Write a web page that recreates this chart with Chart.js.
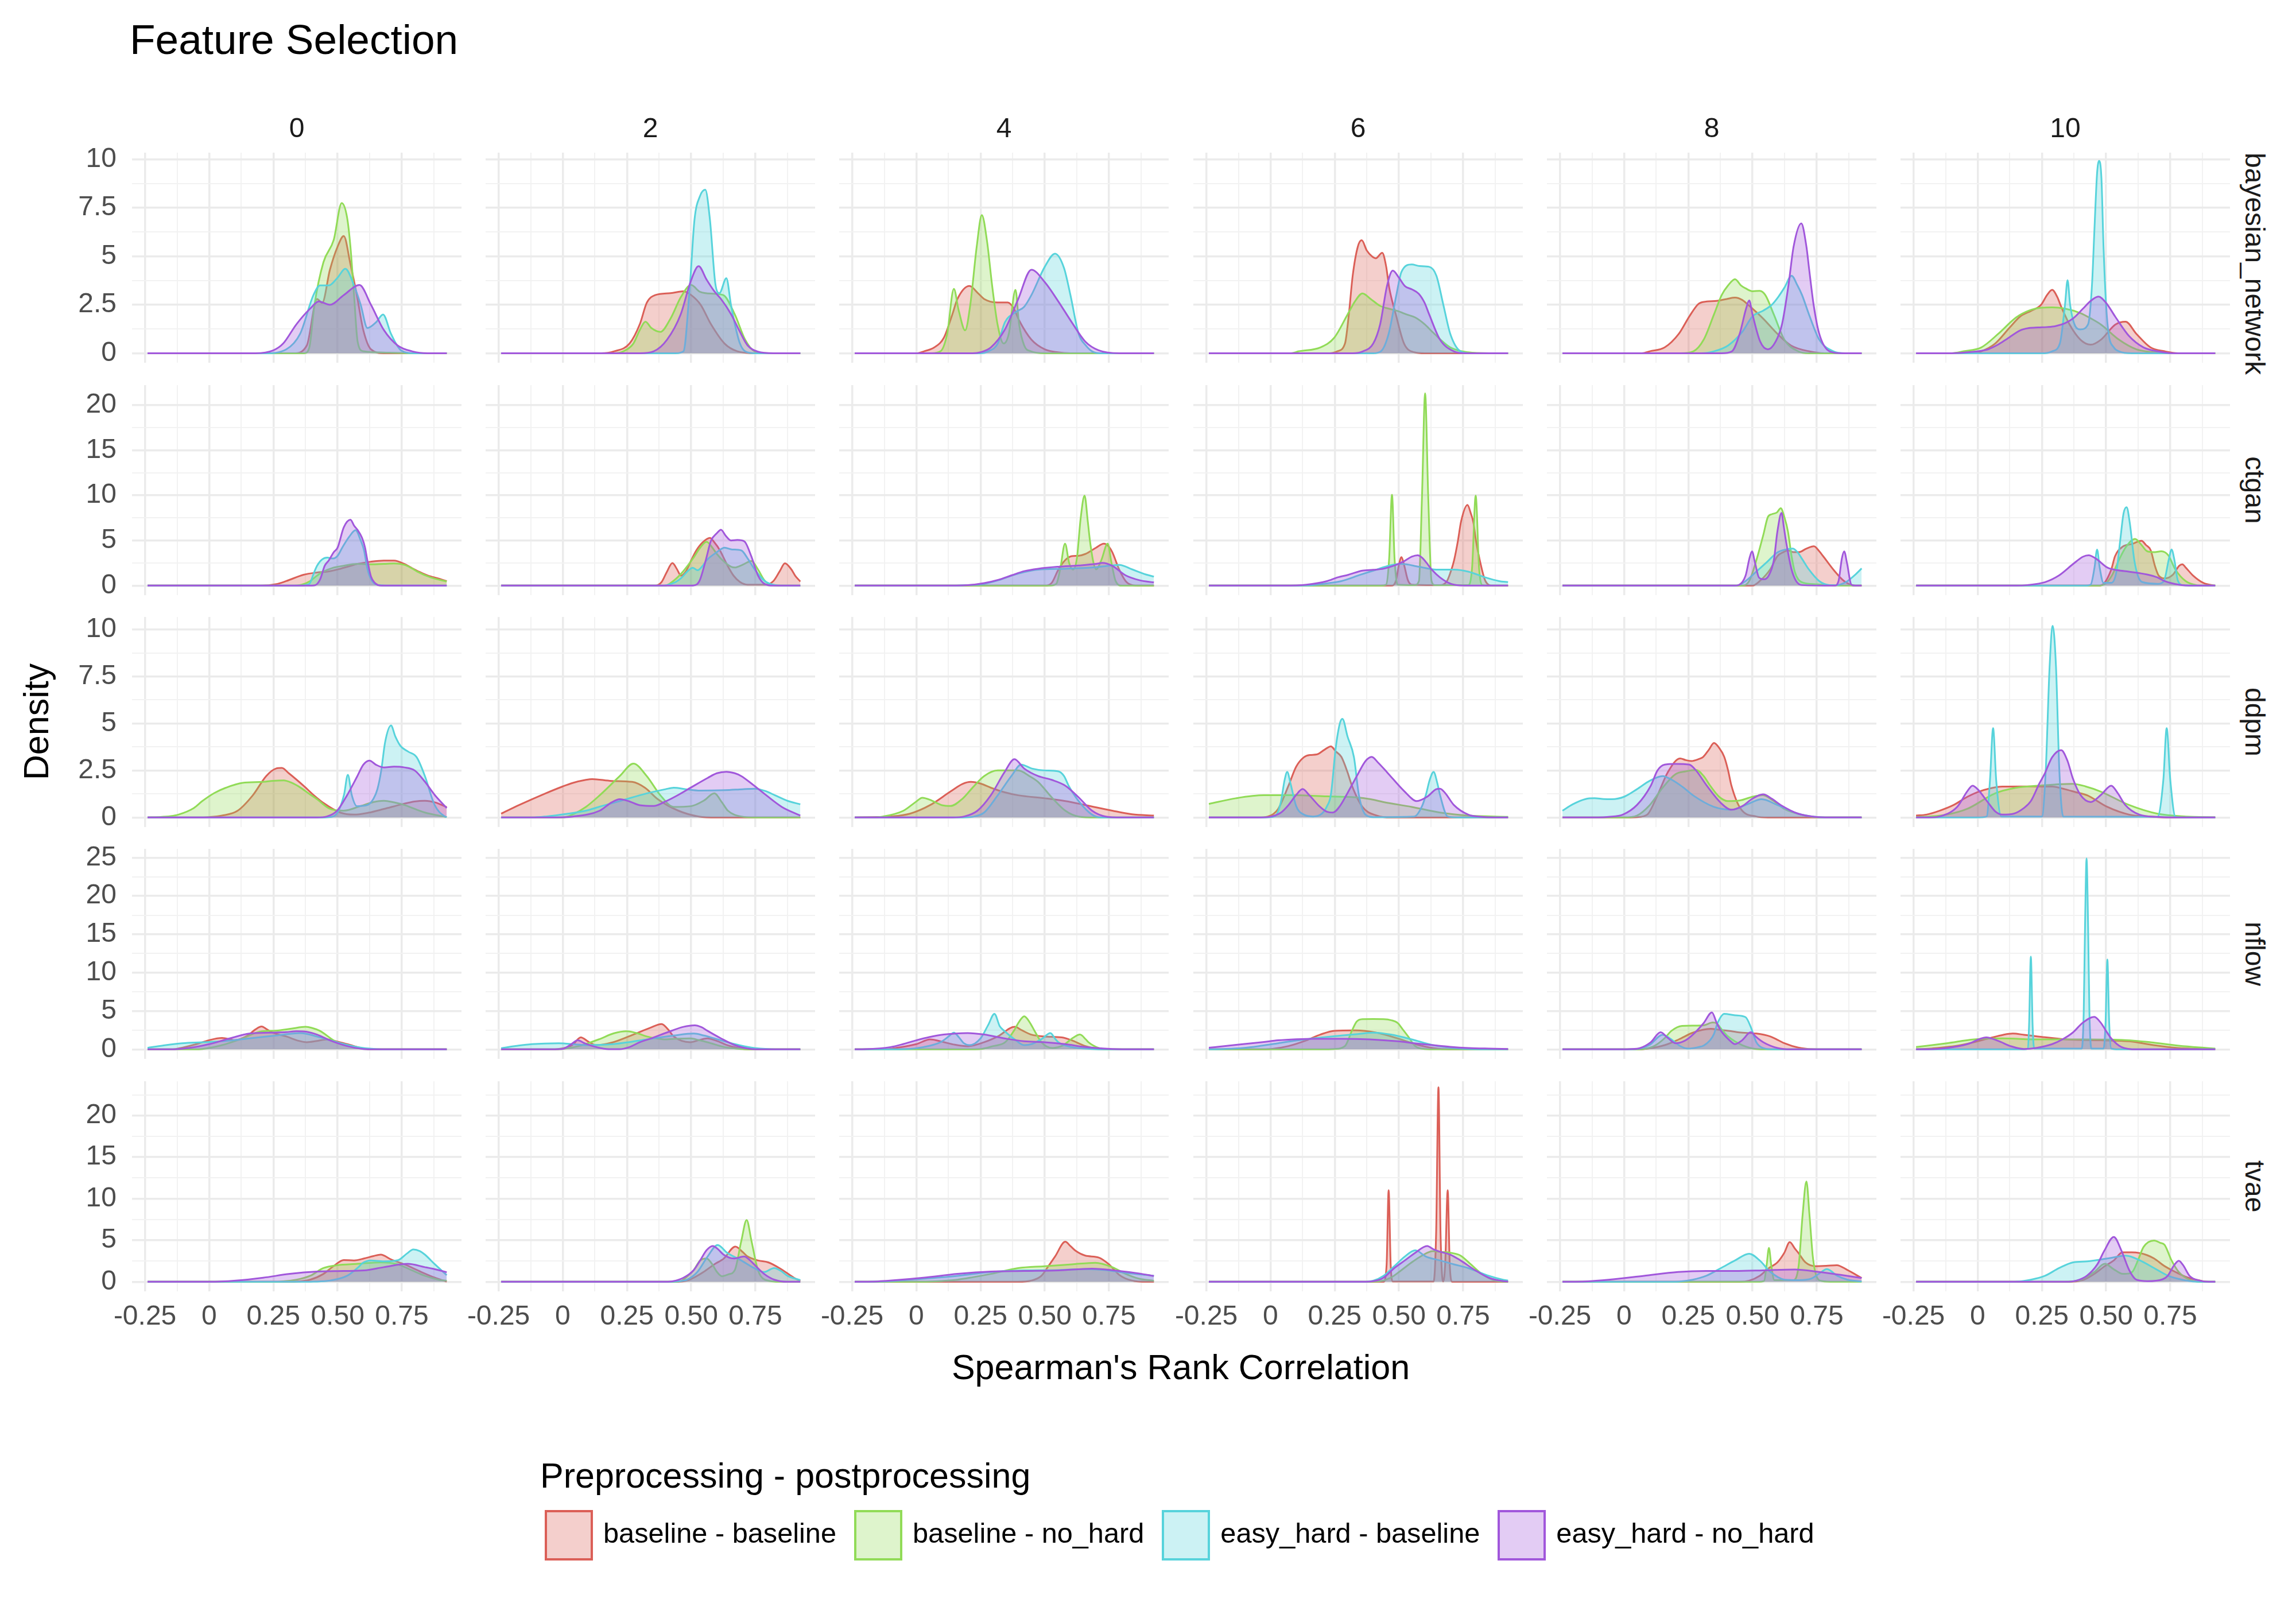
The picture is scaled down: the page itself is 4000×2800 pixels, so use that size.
<!DOCTYPE html>
<html><head><meta charset="utf-8">
<script src="https://cdn.jsdelivr.net/npm/chart.js@4.4.1/dist/chart.umd.min.js"></script>
<style>
html,body{margin:0;padding:0;background:#fff;}
#root{position:relative;width:4000px;height:2800px;background:#fff;overflow:hidden;font-family:"Liberation Sans",Arial,Helvetica,sans-serif;}
.t{position:absolute;white-space:nowrap;line-height:1;}
canvas{position:absolute;}
#legend{position:absolute;left:949px;top:2631px;height:88px;display:flex;align-items:center;}
.key{width:84px;height:88px;box-sizing:border-box;border:4px solid;flex:none;}
.ltxt{font-size:48.7px;line-height:48px;color:#000;margin-left:18px;margin-right:31px;position:relative;top:-4px;white-space:nowrap;}
</style></head><body><div id="root"></div>
<script>
// ---------- categories / labels ----------
var title = "Feature Selection";
var xTitle = "Spearman's Rank Correlation";
var yTitle = "Density";
var legendTitle = "Preprocessing - postprocessing";
var models = ["bayesian_network","ctgan","ddpm","nflow","tvae"];
var modelKeys = ["bn","ct","dd","nf","tv"];
var nFeatures = ["0","2","4","6","8","10"];
var seriesNames = ["baseline - baseline","baseline - no_hard","easy_hard - baseline","easy_hard - no_hard"];
var seriesKeys = ["bb","bn","eb","en"];
var xTickValues = [-0.25,0,0.25,0.5,0.75];
var xTickLabels = ["-0.25","0","0.25","0.50","0.75"];
var yTickValues = [[0,2.5,5,7.5,10],[0,5,10,15,20],[0,2.5,5,7.5,10],[0,5,10,15,20,25],[0,5,10,15,20]];
var yTickLabels = [["0","2.5","5","7.5","10"],["0","5","10","15","20"],["0","2.5","5","7.5","10"],["0","5","10","15","20","25"],["0","5","10","15","20"]];
var yLimits = [[-0.49,10.35],[-1.06,22.2],[-0.51,10.66],[-1.245,26.15],[-1.15,24.13]];
var xLimits = [-0.3005,0.9825];

// ---------- density curves [x, density] (bb = baseline-baseline, bn = baseline-no_hard, eb = easy_hard-baseline, en = easy_hard-no_hard) ----------
// bayesian_network
var bn0_bb=[[-0.24,0],[0.33,0],[0.38,0.4],[0.42,2.8],[0.44,2.6],[0.47,4.3],[0.5,5.5],[0.524,6.05],[0.55,4.6],[0.575,3.0],[0.6,1.2],[0.63,0.2],[0.68,0],[0.925,0]];
var bn0_bn=[[-0.24,0],[0.37,0],[0.39,0.3],[0.41,2.5],[0.445,4.7],[0.485,5.85],[0.516,7.75],[0.537,7.0],[0.55,5.5],[0.563,3.2],[0.578,0.6],[0.6,0.1],[0.7,0.03],[0.8,0],[0.925,0]];
var bn0_eb=[[-0.24,0],[0.22,0],[0.3,0.2],[0.354,1.0],[0.406,3.0],[0.432,3.5],[0.466,3.5],[0.5,3.9],[0.53,4.36],[0.564,3.5],[0.59,2.5],[0.616,1.3],[0.65,1.6],[0.677,2.0],[0.708,1.0],[0.747,0.15],[0.8,0],[0.925,0]];
var bn0_en=[[-0.24,0],[0.18,0],[0.25,0.15],[0.288,0.5],[0.34,1.5],[0.393,2.3],[0.427,2.67],[0.47,2.5],[0.524,3.0],[0.585,3.52],[0.63,2.5],[0.68,1.2],[0.734,0.4],[0.79,0.1],[0.85,0],[0.925,0]];
var bn2_bb=[[-0.24,0],[0.15,0],[0.2,0.1],[0.26,0.5],[0.3,1.5],[0.327,2.6],[0.36,3.0],[0.42,3.1],[0.47,3.2],[0.5,3.0],[0.537,2.5],[0.577,1.5],[0.63,0.5],[0.68,0.1],[0.75,0],[0.925,0]];
var bn2_bn=[[-0.24,0],[0.2,0],[0.236,0.1],[0.275,0.5],[0.3,1.2],[0.322,1.63],[0.345,1.3],[0.38,1.1],[0.42,1.8],[0.46,2.9],[0.5,3.52],[0.534,3.17],[0.586,3.07],[0.625,3.0],[0.67,2.0],[0.71,0.7],[0.747,0.1],[0.8,0],[0.925,0]];
var bn2_eb=[[-0.24,0],[0.44,0],[0.47,0.1],[0.495,3.5],[0.513,6.9],[0.534,8.1],[0.555,8.44],[0.573,6.9],[0.594,3.6],[0.61,3.1],[0.637,3.87],[0.655,2.5],[0.67,1.5],[0.69,0.5],[0.71,0.1],[0.75,0],[0.925,0]];
var bn2_en=[[-0.24,0],[0.3,0],[0.354,0.1],[0.406,0.7],[0.459,2.0],[0.498,3.7],[0.529,4.49],[0.56,3.8],[0.59,3.2],[0.616,2.8],[0.656,2.0],[0.69,1.1],[0.72,0.4],[0.76,0.08],[0.82,0],[0.925,0]];
var bn4_bb=[[-0.24,0],[0.0,0],[0.03,0.1],[0.07,0.3],[0.107,0.8],[0.14,2.0],[0.16,2.8],[0.207,3.47],[0.24,3.1],[0.264,2.8],[0.316,2.62],[0.356,2.62],[0.38,2.3],[0.4,1.7],[0.448,0.7],[0.5,0.2],[0.55,0.05],[0.6,0],[0.925,0]];
var bn4_bn=[[-0.24,0],[0.06,0],[0.094,0.1],[0.12,1.0],[0.146,3.32],[0.165,2.2],[0.19,1.18],[0.21,2.5],[0.235,5.5],[0.255,7.13],[0.275,5.8],[0.295,3.5],[0.316,1.5],[0.34,0.5],[0.36,1.0],[0.386,3.27],[0.4,1.5],[0.42,0.4],[0.446,0.1],[0.5,0],[0.925,0]];
var bn4_eb=[[-0.24,0],[0.25,0],[0.28,0.1],[0.317,0.5],[0.345,1.6],[0.388,2.13],[0.42,2.4],[0.448,3.0],[0.5,4.46],[0.54,5.14],[0.575,4.4],[0.6,3.0],[0.632,1.0],[0.66,0.4],[0.684,0.1],[0.72,0],[0.925,0]];
var bn4_en=[[-0.24,0],[0.22,0],[0.25,0.05],[0.29,0.3],[0.343,1.18],[0.396,2.77],[0.448,4.31],[0.5,3.67],[0.553,2.67],[0.606,1.58],[0.658,0.6],[0.71,0.15],[0.79,0],[0.925,0]];
var bn6_bb=[[-0.24,0],[0.23,0],[0.26,0.1],[0.29,0.5],[0.305,2.0],[0.32,4.0],[0.34,5.5],[0.355,5.83],[0.375,5.3],[0.395,5.0],[0.41,4.9],[0.435,5.18],[0.45,4.5],[0.462,3.4],[0.488,2.0],[0.52,0.5],[0.56,0.05],[0.6,0],[0.925,0]];
var bn6_bn=[[-0.24,0],[0.08,0],[0.11,0.1],[0.194,0.3],[0.248,0.8],[0.3,2.0],[0.33,2.7],[0.358,3.09],[0.39,2.8],[0.426,2.45],[0.46,2.3],[0.495,2.18],[0.53,2.0],[0.563,1.85],[0.6,1.5],[0.632,1.08],[0.7,0.3],[0.77,0.05],[0.85,0],[0.925,0]];
var bn6_eb=[[-0.24,0],[0.4,0],[0.43,0.1],[0.46,1.0],[0.49,3.0],[0.51,4.2],[0.55,4.58],[0.58,4.5],[0.618,4.46],[0.646,4.0],[0.673,2.5],[0.7,1.0],[0.74,0.1],[0.78,0],[0.925,0]];
var bn6_en=[[-0.24,0],[0.32,0],[0.36,0.1],[0.4,0.5],[0.427,1.5],[0.454,3.5],[0.476,4.26],[0.5,3.9],[0.523,3.47],[0.55,3.3],[0.577,3.07],[0.6,2.6],[0.618,2.0],[0.66,0.7],[0.714,0.1],[0.76,0],[0.925,0]];
var bn8_bb=[[-0.24,0],[0.07,0],[0.1,0.1],[0.158,0.3],[0.213,1.0],[0.254,1.9],[0.29,2.55],[0.322,2.67],[0.36,2.7],[0.4,2.8],[0.432,2.87],[0.46,2.75],[0.487,2.45],[0.542,1.78],[0.597,1.0],[0.65,0.4],[0.72,0.1],[0.78,0],[0.925,0]];
var bn8_bn=[[-0.24,0],[0.22,0],[0.27,0.1],[0.31,0.7],[0.35,2.0],[0.38,3.0],[0.405,3.5],[0.432,3.82],[0.455,3.5],[0.473,3.35],[0.5,3.2],[0.528,3.22],[0.55,3.0],[0.583,2.0],[0.624,0.7],[0.678,0.1],[0.72,0],[0.925,0]];
var bn8_eb=[[-0.24,0],[0.3,0],[0.35,0.1],[0.405,0.4],[0.46,1.1],[0.5,1.9],[0.542,2.2],[0.575,2.5],[0.6,2.9],[0.625,3.4],[0.652,4.0],[0.675,3.5],[0.693,3.0],[0.72,2.0],[0.76,0.7],[0.815,0.1],[0.86,0],[0.925,0]];
var bn8_en=[[-0.24,0],[0.38,0],[0.42,0.1],[0.45,1.0],[0.475,2.3],[0.487,2.72],[0.5,2.0],[0.53,0.6],[0.56,0.2],[0.59,0.6],[0.615,1.5],[0.64,3.5],[0.66,5.5],[0.69,6.7],[0.71,5.5],[0.72,4.4],[0.738,2.5],[0.76,1.0],[0.8,0.1],[0.85,0],[0.925,0]];
var bn10_bb=[[-0.24,0],[-0.02,0],[0.014,0.1],[0.068,0.5],[0.123,1.3],[0.166,1.9],[0.21,2.2],[0.247,2.5],[0.27,3.0],[0.29,3.27],[0.31,2.9],[0.323,2.47],[0.358,1.48],[0.4,0.7],[0.44,0.44],[0.48,0.7],[0.536,1.48],[0.576,1.63],[0.618,1.0],[0.673,0.3],[0.728,0.1],[0.78,0],[0.925,0]];
var bn10_bn=[[-0.24,0],[-0.1,0],[-0.055,0.1],[0.014,0.3],[0.08,1.0],[0.15,1.85],[0.2,2.2],[0.25,2.35],[0.29,2.37],[0.34,2.3],[0.4,2.07],[0.44,1.8],[0.48,1.48],[0.55,0.7],[0.618,0.2],[0.686,0.05],[0.75,0],[0.925,0]];
var bn10_eb=[[-0.24,0],[0.26,0],[0.29,0.1],[0.32,0.5],[0.34,2.5],[0.35,3.77],[0.36,2.5],[0.38,1.4],[0.4,1.23],[0.43,1.5],[0.445,3.5],[0.455,6.5],[0.465,9.3],[0.473,9.93],[0.482,9.0],[0.49,5.5],[0.5,2.5],[0.51,1.0],[0.53,0.3],[0.55,0.1],[0.6,0],[0.925,0]];
var bn10_en=[[-0.24,0],[-0.1,0],[-0.04,0.05],[0.04,0.2],[0.08,0.45],[0.11,0.7],[0.166,1.18],[0.2,1.3],[0.235,1.33],[0.27,1.35],[0.303,1.4],[0.34,1.55],[0.372,1.8],[0.41,2.3],[0.44,2.7],[0.47,2.92],[0.5,2.6],[0.536,1.88],[0.59,0.88],[0.646,0.3],[0.7,0.1],[0.76,0],[0.925,0]];
// ctgan
var ct0_bb=[[-0.24,0],[0.2,0],[0.262,0.17],[0.3,0.5],[0.367,1.2],[0.42,1.45],[0.46,1.55],[0.497,1.77],[0.54,2.1],[0.577,2.4],[0.63,2.65],[0.68,2.77],[0.72,2.77],[0.76,2.4],[0.787,1.98],[0.82,1.5],[0.852,1.1],[0.89,0.8],[0.925,0.5]];
var ct0_bn=[[-0.24,0],[0.32,0],[0.36,0.1],[0.393,0.5],[0.42,1.1],[0.445,1.55],[0.48,1.95],[0.524,2.2],[0.577,2.4],[0.63,2.35],[0.68,2.4],[0.72,2.45],[0.76,2.3],[0.79,1.9],[0.81,1.55],[0.863,0.9],[0.925,0.45]];
var ct0_eb=[[-0.24,0],[0.36,0],[0.38,0.1],[0.393,0.3],[0.405,1.2],[0.42,2.2],[0.44,2.9],[0.46,3.1],[0.48,3.0],[0.5,3.3],[0.52,4.3],[0.545,5.4],[0.57,6.13],[0.59,5.0],[0.603,3.9],[0.615,2.0],[0.624,1.1],[0.64,0.3],[0.66,0.05],[0.7,0],[0.925,0]];
var ct0_en=[[-0.24,0],[0.4,0],[0.414,0.06],[0.432,0.7],[0.45,2.2],[0.466,2.8],[0.485,3.7],[0.5,4.2],[0.524,6.45],[0.55,7.3],[0.565,6.6],[0.577,6.2],[0.595,5.3],[0.607,4.2],[0.616,2.8],[0.63,1.0],[0.645,0.3],[0.67,0],[0.925,0]];
var ct2_bb=[[-0.24,0],[0.36,0],[0.385,0.4],[0.405,1.5],[0.427,2.5],[0.445,1.8],[0.46,1.1],[0.48,1.6],[0.5,2.8],[0.52,3.9],[0.545,4.8],[0.573,5.28],[0.59,4.8],[0.612,3.9],[0.64,2.3],[0.665,1.1],[0.69,0.4],[0.72,0.1],[0.79,0.1],[0.82,0.5],[0.845,1.6],[0.865,2.47],[0.89,1.8],[0.905,1.1],[0.925,0.45]];
var ct2_bn=[[-0.24,0],[0.4,0],[0.43,0.5],[0.468,1.55],[0.508,3.04],[0.535,4.2],[0.56,4.85],[0.58,4.3],[0.6,3.5],[0.63,2.6],[0.655,2.1],[0.67,2.0],[0.7,2.3],[0.735,2.72],[0.76,1.8],[0.785,0.6],[0.81,0.1],[0.85,0],[0.925,0]];
var ct2_eb=[[-0.24,0],[0.38,0],[0.406,0.06],[0.44,0.4],[0.46,0.8],[0.49,1.7],[0.506,1.98],[0.525,1.7],[0.545,2.2],[0.56,2.8],[0.6,3.7],[0.63,4.2],[0.66,4.0],[0.695,3.9],[0.72,3.0],[0.747,1.8],[0.787,0.5],[0.82,0.1],[0.86,0],[0.925,0]];
var ct2_en=[[-0.24,0],[0.5,0],[0.52,0.1],[0.535,0.7],[0.557,2.83],[0.577,4.96],[0.6,5.8],[0.616,6.19],[0.635,5.5],[0.655,5.0],[0.68,5.06],[0.707,4.9],[0.734,3.26],[0.76,1.13],[0.787,0.17],[0.82,0],[0.925,0]];
var ct4_bb=[[-0.24,0],[0.5,0],[0.527,0.3],[0.553,1.77],[0.58,2.83],[0.605,3.26],[0.63,3.3],[0.658,3.5],[0.7,4.2],[0.73,4.64],[0.75,4.3],[0.763,3.7],[0.79,1.77],[0.815,0.5],[0.84,0.06],[0.87,0],[0.925,0]];
var ct4_bn=[[-0.24,0],[0.52,0],[0.545,0.2],[0.56,1.8],[0.579,4.64],[0.595,2.5],[0.61,1.77],[0.625,3.0],[0.64,7.5],[0.655,9.96],[0.668,7.0],[0.676,4.96],[0.69,2.5],[0.7,1.8],[0.72,2.8],[0.745,4.64],[0.76,2.5],[0.776,0.5],[0.8,0],[0.925,0]];
var ct4_eb=[[-0.24,0],[0.15,0],[0.2,0.05],[0.26,0.17],[0.32,0.6],[0.37,1.1],[0.42,1.5],[0.474,1.77],[0.58,1.87],[0.685,2.0],[0.75,2.2],[0.79,2.3],[0.84,1.8],[0.894,1.23],[0.925,1.0]];
var ct4_en=[[-0.24,0],[0.15,0],[0.2,0.05],[0.264,0.28],[0.32,0.65],[0.37,1.13],[0.42,1.6],[0.474,1.87],[0.553,2.09],[0.632,2.23],[0.7,2.4],[0.724,2.51],[0.763,2.19],[0.815,1.13],[0.868,0.6],[0.925,0.35]];
var ct6_bb=[[-0.24,0],[0.47,0],[0.488,0.5],[0.5,2.3],[0.51,3.15],[0.52,2.3],[0.535,0.6],[0.55,0.1],[0.66,0.05],[0.687,0.5],[0.7,1.4],[0.715,2.83],[0.73,5.0],[0.742,7.1],[0.767,8.94],[0.78,8.0],[0.79,7.0],[0.8,5.0],[0.815,2.8],[0.837,0.5],[0.865,0],[0.925,0]];
var ct6_bn=[[-0.24,0],[0.43,0],[0.45,0.1],[0.462,3.0],[0.473,10.06],[0.483,3.0],[0.495,0.1],[0.56,0.05],[0.578,0.5],[0.59,10.0],[0.602,21.3],[0.614,10.0],[0.627,0.5],[0.64,0.05],[0.77,0.05],[0.785,2.0],[0.799,9.96],[0.812,2.0],[0.825,0.05],[0.85,0],[0.925,0]];
var ct6_eb=[[-0.24,0],[0.12,0],[0.166,0.05],[0.22,0.25],[0.276,0.5],[0.35,1.2],[0.413,1.77],[0.46,2.2],[0.51,2.4],[0.578,2.09],[0.646,1.77],[0.715,1.77],[0.77,1.55],[0.837,0.9],[0.89,0.5],[0.925,0.38]];
var ct6_en=[[-0.24,0],[0.05,0],[0.14,0.1],[0.22,0.5],[0.26,0.9],[0.303,1.2],[0.358,1.66],[0.4,1.75],[0.44,1.87],[0.48,2.2],[0.52,2.7],[0.55,3.2],[0.573,3.36],[0.59,3.1],[0.605,2.62],[0.63,1.7],[0.66,0.9],[0.69,0.35],[0.715,0.1],[0.77,0],[0.925,0]];
var ct8_bb=[[-0.24,0],[0.5,0],[0.528,0.5],[0.569,1.8],[0.597,3.26],[0.62,3.7],[0.638,3.9],[0.66,3.7],[0.68,3.7],[0.71,4.1],[0.739,4.36],[0.76,3.8],[0.775,3.26],[0.815,1.77],[0.857,0.5],[0.9,0],[0.925,0]];
var ct8_bn=[[-0.24,0],[0.46,0],[0.487,0.5],[0.515,2.8],[0.542,5.6],[0.56,7.6],[0.575,7.9],[0.595,8.1],[0.61,8.57],[0.625,7.5],[0.638,6.0],[0.652,3.3],[0.665,1.5],[0.678,0.7],[0.7,0.3],[0.75,0.15],[0.8,0.05],[0.85,0],[0.925,0]];
var ct8_eb=[[-0.24,0],[0.42,0],[0.446,0.06],[0.473,0.5],[0.515,1.55],[0.556,2.6],[0.597,3.68],[0.63,4.0],[0.657,4.1],[0.675,3.7],[0.692,3.0],[0.72,1.77],[0.76,0.5],[0.8,0.06],[0.83,0.05],[0.85,0.2],[0.87,0.5],[0.9,1.2],[0.925,1.9]];
var ct8_en=[[-0.24,0],[0.43,0],[0.446,0.06],[0.473,1.1],[0.488,3.0],[0.498,3.79],[0.51,2.5],[0.525,0.9],[0.545,0.7],[0.563,1.1],[0.583,2.8],[0.597,6.0],[0.613,8.04],[0.622,6.5],[0.63,5.0],[0.652,1.8],[0.67,0.5],[0.692,0.06],[0.82,0],[0.835,0.5],[0.848,3.0],[0.857,3.79],[0.868,2.5],[0.885,0.1],[0.9,0],[0.925,0]];
var ct10_bb=[[-0.24,0],[0.47,0],[0.493,0.28],[0.52,1.77],[0.535,3.26],[0.564,4.3],[0.6,4.6],[0.638,4.96],[0.655,4.5],[0.674,3.9],[0.69,2.2],[0.705,1.1],[0.73,0.8],[0.76,1.2],[0.785,2.2],[0.797,2.36],[0.81,2.0],[0.838,1.13],[0.88,0.28],[0.92,0.02],[0.925,0]];
var ct10_bn=[[-0.24,0],[0.47,0],[0.495,0.17],[0.523,1.13],[0.55,2.83],[0.578,4.3],[0.613,5.17],[0.635,4.6],[0.66,3.8],[0.69,3.7],[0.715,3.8],[0.742,3.36],[0.77,1.77],[0.81,0.5],[0.85,0.06],[0.88,0],[0.925,0]];
var ct10_eb=[[-0.24,0],[0.42,0],[0.44,0.1],[0.455,2.0],[0.465,4.0],[0.475,2.0],[0.49,0.3],[0.52,0.3],[0.54,1.5],[0.555,5.0],[0.568,8.0],[0.58,8.68],[0.592,7.0],[0.61,2.8],[0.625,1.0],[0.64,0.4],[0.7,0.2],[0.725,0.5],[0.745,3.0],[0.755,4.0],[0.765,3.0],[0.78,0.5],[0.8,0.05],[0.84,0],[0.925,0]];
var ct10_en=[[-0.24,0],[0.15,0],[0.194,0.06],[0.262,0.38],[0.317,1.13],[0.372,2.4],[0.41,3.2],[0.432,3.36],[0.46,3.0],[0.505,2.0],[0.545,1.7],[0.588,1.55],[0.66,1.23],[0.7,0.9],[0.728,0.5],[0.783,0.1],[0.84,0],[0.925,0]];
// ddpm
var dd0_bb=[[-0.24,0],[-0.05,0],[0.0,0.02],[0.05,0.1],[0.11,0.35],[0.17,1.18],[0.222,2.2],[0.26,2.6],[0.283,2.63],[0.31,2.35],[0.367,1.69],[0.41,1.15],[0.445,0.77],[0.51,0.26],[0.564,0.15],[0.62,0.25],[0.68,0.45],[0.75,0.7],[0.8,0.85],[0.84,0.89],[0.88,0.8],[0.925,0.55]];
var dd0_bn=[[-0.24,0],[-0.2,0.02],[-0.15,0.07],[-0.12,0.15],[-0.06,0.5],[-0.027,0.87],[0.02,1.3],[0.065,1.58],[0.13,1.84],[0.21,1.89],[0.25,1.95],[0.29,1.97],[0.32,1.85],[0.354,1.6],[0.39,1.25],[0.42,0.97],[0.47,0.46],[0.524,0.36],[0.59,0.61],[0.64,0.82],[0.68,0.89],[0.72,0.8],[0.76,0.66],[0.84,0.26],[0.925,0.02]];
var dd0_eb=[[-0.24,0],[0.44,0],[0.47,0.02],[0.5,0.26],[0.525,1.2],[0.54,2.27],[0.555,1.2],[0.575,0.6],[0.616,0.66],[0.64,1.0],[0.655,1.5],[0.67,2.5],[0.685,4.0],[0.708,4.89],[0.725,4.3],[0.745,3.8],[0.775,3.5],[0.808,3.2],[0.84,2.2],[0.878,0.66],[0.918,0.05],[0.925,0.02]];
var dd0_en=[[-0.24,0],[0.42,0],[0.458,0.05],[0.498,0.36],[0.537,1.18],[0.577,2.2],[0.6,2.8],[0.624,3.02],[0.65,2.8],[0.68,2.66],[0.72,2.7],[0.76,2.66],[0.8,2.5],[0.84,1.9],[0.878,1.2],[0.925,0.5]];
var dd2_bb=[[-0.24,0.2],[-0.17,0.66],[-0.067,1.28],[0.0,1.65],[0.04,1.84],[0.09,2.0],[0.115,2.04],[0.19,1.94],[0.27,1.89],[0.32,1.58],[0.37,0.97],[0.45,0.36],[0.53,0.05],[0.6,0],[0.925,0]];
var dd2_bn=[[-0.24,0],[0.0,0],[0.037,0.15],[0.09,0.56],[0.144,1.18],[0.222,2.2],[0.275,2.86],[0.327,2.2],[0.38,1.18],[0.432,0.56],[0.5,0.6],[0.55,0.9],[0.59,1.28],[0.62,0.8],[0.643,0.36],[0.695,0.05],[0.75,0],[0.925,0]];
var dd2_eb=[[-0.24,0],[-0.12,0],[-0.066,0.05],[0.02,0.2],[0.09,0.36],[0.15,0.6],[0.222,0.87],[0.327,1.28],[0.4,1.5],[0.432,1.58],[0.48,1.5],[0.535,1.43],[0.63,1.45],[0.7,1.5],[0.747,1.53],[0.79,1.4],[0.826,1.18],[0.878,0.87],[0.925,0.7]];
var dd2_en=[[-0.24,0],[-0.05,0],[0.04,0.05],[0.144,0.36],[0.19,0.8],[0.222,0.97],[0.26,0.85],[0.3,0.65],[0.354,0.61],[0.4,0.85],[0.45,1.2],[0.5,1.6],[0.564,2.1],[0.6,2.35],[0.637,2.43],[0.67,2.35],[0.695,2.2],[0.735,1.8],[0.774,1.38],[0.853,0.56],[0.925,0.1]];
var dd4_bb=[[-0.24,0],[-0.17,0.02],[-0.1,0.05],[-0.025,0.2],[0.054,0.66],[0.133,1.38],[0.18,1.78],[0.212,1.89],[0.25,1.8],[0.29,1.58],[0.34,1.35],[0.396,1.18],[0.5,1.02],[0.58,0.87],[0.658,0.66],[0.763,0.36],[0.84,0.17],[0.925,0.1]];
var dd4_bn=[[-0.24,0],[-0.18,0],[-0.13,0.05],[-0.05,0.36],[0.0,0.85],[0.023,1.05],[0.06,0.9],[0.1,0.65],[0.133,0.61],[0.18,1.0],[0.22,1.6],[0.264,2.2],[0.317,2.5],[0.396,2.5],[0.44,2.2],[0.474,1.89],[0.527,1.07],[0.58,0.36],[0.632,0.05],[0.7,0],[0.925,0]];
var dd4_eb=[[-0.24,0],[0.18,0],[0.225,0.05],[0.264,0.26],[0.317,1.18],[0.37,2.2],[0.408,2.81],[0.45,2.6],[0.5,2.5],[0.553,2.45],[0.575,2.2],[0.593,1.69],[0.632,0.87],[0.684,0.15],[0.72,0],[0.925,0]];
var dd4_en=[[-0.24,0],[0.14,0],[0.186,0.05],[0.238,0.36],[0.29,1.18],[0.343,2.4],[0.382,3.1],[0.42,2.6],[0.474,2.2],[0.527,2.0],[0.58,1.69],[0.632,1.07],[0.684,0.36],[0.737,0.05],[0.8,0],[0.925,0]];
var dd6_bb=[[-0.24,0],[-0.05,0],[-0.01,0.05],[0.03,0.46],[0.07,1.69],[0.1,2.7],[0.13,3.2],[0.153,3.32],[0.18,3.35],[0.21,3.6],[0.235,3.78],[0.255,3.5],[0.276,3.22],[0.3,2.4],[0.317,1.69],[0.358,0.56],[0.413,0.1],[0.47,0],[0.925,0]];
var dd6_bn=[[-0.24,0.72],[-0.135,1.02],[-0.025,1.18],[0.085,1.18],[0.22,1.12],[0.33,1.07],[0.39,0.97],[0.44,0.82],[0.55,0.56],[0.66,0.26],[0.77,0.1],[0.925,0.03]];
var dd6_eb=[[-0.24,0],[-0.02,0],[0.016,0.05],[0.04,0.8],[0.055,2.0],[0.065,2.42],[0.078,1.8],[0.1,0.6],[0.13,0.15],[0.166,0.05],[0.2,0.2],[0.22,0.6],[0.235,1.2],[0.254,3.7],[0.27,5.0],[0.28,5.24],[0.3,4.3],[0.325,3.2],[0.344,1.2],[0.37,0.15],[0.4,0.02],[0.56,0.05],[0.59,0.6],[0.605,1.2],[0.62,2.0],[0.635,2.42],[0.65,1.8],[0.66,1.2],[0.69,0.05],[0.73,0],[0.925,0]];
var dd6_en=[[-0.24,0],[-0.04,0],[0.003,0.05],[0.04,0.25],[0.07,0.66],[0.1,1.2],[0.125,1.51],[0.15,1.2],[0.19,0.6],[0.22,0.3],[0.243,0.26],[0.27,0.6],[0.3,1.3],[0.34,2.3],[0.37,3.0],[0.394,3.22],[0.42,2.9],[0.454,2.4],[0.522,1.38],[0.57,0.87],[0.61,1.1],[0.645,1.5],[0.66,1.53],[0.68,1.3],[0.714,0.66],[0.77,0.15],[0.823,0.03],[0.87,0],[0.925,0]];
var dd8_bb=[[-0.24,0],[0.0,0],[0.05,0.02],[0.09,0.15],[0.13,1.18],[0.17,2.4],[0.218,3.14],[0.24,3.05],[0.262,3.0],[0.29,3.1],[0.308,3.22],[0.33,3.6],[0.35,3.96],[0.37,3.7],[0.39,3.22],[0.405,2.5],[0.418,1.69],[0.454,0.46],[0.515,0.05],[0.56,0],[0.925,0]];
var dd8_bn=[[-0.24,0],[0.0,0],[0.05,0.1],[0.1,0.66],[0.15,1.58],[0.2,2.3],[0.24,2.45],[0.28,2.53],[0.31,2.2],[0.335,1.69],[0.37,1.1],[0.404,0.87],[0.45,0.9],[0.5,1.1],[0.54,1.18],[0.58,0.9],[0.623,0.46],[0.705,0.1],[0.76,0],[0.925,0]];
var dd8_eb=[[-0.24,0.36],[-0.2,0.7],[-0.15,0.98],[-0.115,1.02],[-0.08,0.98],[-0.047,0.97],[0.0,1.1],[0.05,1.5],[0.1,1.95],[0.15,2.2],[0.186,2.0],[0.23,1.6],[0.268,1.18],[0.35,0.56],[0.418,0.41],[0.48,0.7],[0.536,0.97],[0.597,0.66],[0.678,0.2],[0.745,0.03],[0.8,0],[0.925,0]];
var dd8_en=[[-0.24,0],[-0.1,0],[-0.06,0.03],[-0.005,0.15],[0.05,0.66],[0.104,1.69],[0.13,2.5],[0.158,2.81],[0.2,2.85],[0.254,2.81],[0.28,2.5],[0.322,1.69],[0.377,0.77],[0.418,0.41],[0.46,0.6],[0.5,1.0],[0.541,1.23],[0.575,1.0],[0.61,0.66],[0.678,0.2],[0.745,0.03],[0.8,0],[0.925,0]];
var dd10_bb=[[-0.24,0.1],[-0.2,0.15],[-0.15,0.35],[-0.094,0.66],[-0.04,1.1],[0.0,1.35],[0.05,1.55],[0.096,1.64],[0.2,1.65],[0.29,1.64],[0.34,1.5],[0.38,1.35],[0.426,1.18],[0.505,0.56],[0.59,0.15],[0.67,0.05],[0.75,0],[0.925,0]];
var dd10_bn=[[-0.24,0.02],[-0.19,0.05],[-0.12,0.15],[-0.04,0.46],[0.068,1.28],[0.15,1.58],[0.235,1.69],[0.3,1.75],[0.37,1.79],[0.42,1.65],[0.478,1.38],[0.59,0.66],[0.7,0.2],[0.81,0.05],[0.925,0.01]];
var dd10_eb=[[-0.24,0],[0.0,0],[0.035,0.05],[0.048,2.0],[0.06,4.75],[0.072,2.0],[0.092,0.05],[0.25,0.05],[0.265,2.5],[0.28,8.0],[0.292,10.19],[0.305,8.0],[0.318,2.5],[0.333,0.05],[0.7,0.03],[0.723,2.0],[0.736,4.75],[0.75,2.0],[0.77,0.03],[0.8,0],[0.925,0]];
var dd10_en=[[-0.24,0],[-0.19,0],[-0.15,0.05],[-0.08,0.56],[-0.04,1.4],[-0.02,1.69],[0.0,1.5],[0.04,0.8],[0.07,0.3],[0.096,0.15],[0.14,0.2],[0.18,0.5],[0.207,0.87],[0.24,1.8],[0.26,2.3],[0.29,3.2],[0.325,3.58],[0.35,3.0],[0.37,2.1],[0.4,1.2],[0.44,0.82],[0.48,1.2],[0.52,1.69],[0.545,1.3],[0.575,0.66],[0.63,0.15],[0.7,0.03],[0.75,0],[0.925,0]];
// nflow
var nf0_bb=[[-0.24,0],[-0.16,0],[-0.13,0.05],[-0.05,0.68],[0.0,1.2],[0.05,1.48],[0.1,1.2],[0.15,1.8],[0.18,2.6],[0.204,2.99],[0.225,2.6],[0.247,2.18],[0.3,1.68],[0.35,1.1],[0.38,0.93],[0.42,1.1],[0.46,1.3],[0.5,1.0],[0.537,0.68],[0.616,0.05],[0.68,0],[0.925,0]];
var nf0_bn=[[-0.24,0],[-0.06,0],[-0.026,0.05],[0.05,0.55],[0.13,1.43],[0.196,2.3],[0.26,2.45],[0.32,2.7],[0.375,2.94],[0.4,2.8],[0.43,2.43],[0.497,0.93],[0.577,0.18],[0.64,0],[0.925,0]];
var nf0_eb=[[-0.24,0.2],[-0.18,0.5],[-0.105,0.8],[-0.026,0.93],[0.05,1.05],[0.157,1.43],[0.26,1.8],[0.354,2.13],[0.42,1.68],[0.497,0.93],[0.577,0.3],[0.655,0.02],[0.7,0],[0.925,0]];
var nf0_en=[[-0.24,0],[-0.15,0],[-0.08,0.18],[0.0,0.68],[0.08,1.43],[0.157,2.06],[0.236,2.18],[0.3,2.25],[0.34,2.36],[0.38,2.3],[0.42,1.93],[0.47,1.18],[0.537,0.43],[0.6,0.05],[0.65,0],[0.925,0]];
var nf2_bb=[[-0.24,0],[-0.05,0],[-0.016,0.05],[0.037,0.55],[0.07,1.56],[0.1,1.0],[0.13,0.55],[0.196,0.93],[0.275,1.93],[0.34,2.81],[0.385,3.31],[0.41,2.6],[0.432,1.68],[0.497,0.93],[0.53,1.2],[0.563,1.43],[0.6,1.1],[0.64,0.55],[0.705,0.05],[0.75,0],[0.925,0]];
var nf2_bn=[[-0.24,0],[-0.05,0],[-0.003,0.05],[0.063,0.43],[0.14,1.3],[0.2,2.1],[0.249,2.36],[0.29,2.1],[0.327,1.68],[0.37,1.4],[0.4,1.3],[0.45,1.4],[0.497,1.43],[0.53,1.2],[0.563,0.93],[0.63,0.3],[0.695,0.05],[0.75,0],[0.925,0]];
var nf2_eb=[[-0.24,0.15],[-0.18,0.45],[-0.12,0.68],[-0.016,0.8],[0.05,0.65],[0.09,0.55],[0.196,0.68],[0.26,0.95],[0.327,1.3],[0.432,1.8],[0.51,2.06],[0.55,1.8],[0.59,1.43],[0.67,0.68],[0.734,0.23],[0.81,0.02],[0.86,0],[0.925,0]];
var nf2_en=[[-0.24,0],[-0.07,0],[-0.003,0.05],[0.03,0.6],[0.058,1.18],[0.085,0.8],[0.116,0.43],[0.17,0.05],[0.22,0.02],[0.26,0.3],[0.3,0.93],[0.35,1.5],[0.404,2.18],[0.47,2.94],[0.514,3.14],[0.54,2.9],[0.563,2.43],[0.616,1.43],[0.67,0.55],[0.734,0.05],[0.78,0],[0.925,0]];
var nf4_bb=[[-0.24,0],[-0.12,0],[-0.08,0.18],[0.0,0.68],[0.054,1.3],[0.1,1.0],[0.15,0.6],[0.2,0.4],[0.264,0.93],[0.317,1.68],[0.383,2.94],[0.41,2.5],[0.447,1.93],[0.5,1.68],[0.566,1.56],[0.605,1.18],[0.658,0.43],[0.71,0.05],[0.76,0],[0.925,0]];
var nf4_bn=[[-0.24,0],[0.2,0],[0.245,0.02],[0.3,0.43],[0.346,0.93],[0.38,2.43],[0.4,3.6],[0.42,4.32],[0.44,3.6],[0.46,2.43],[0.487,0.93],[0.53,0.18],[0.57,0.5],[0.61,1.5],[0.637,1.93],[0.66,1.3],[0.67,0.93],[0.71,0.18],[0.75,0],[0.925,0]];
var nf4_eb=[[-0.24,0],[-0.1,0],[-0.05,0.02],[0.028,0.3],[0.094,0.93],[0.13,1.8],[0.146,2.18],[0.165,1.6],[0.185,0.8],[0.207,0.55],[0.25,1.43],[0.28,3.2],[0.304,4.64],[0.325,3.0],[0.343,2.4],[0.383,1.3],[0.42,0.55],[0.45,0.7],[0.49,1.4],[0.522,2.13],[0.54,1.4],[0.553,0.93],[0.605,0.3],[0.684,0.05],[0.73,0],[0.925,0]];
var nf4_en=[[-0.24,0],[-0.2,0.02],[-0.1,0.3],[-0.05,0.7],[0.0,1.18],[0.05,1.6],[0.107,1.93],[0.2,2.13],[0.264,1.93],[0.343,1.43],[0.42,1.05],[0.5,0.93],[0.58,0.68],[0.658,0.3],[0.763,0.05],[0.85,0],[0.925,0]];
var nf6_bb=[[-0.24,0],[-0.05,0],[0.003,0.05],[0.07,0.43],[0.14,1.18],[0.194,1.93],[0.25,2.43],[0.33,2.48],[0.413,2.18],[0.495,1.43],[0.563,0.68],[0.632,0.18],[0.7,0],[0.925,0]];
var nf6_bn=[[-0.24,0],[0.2,0],[0.25,0.05],[0.29,0.43],[0.317,2.43],[0.335,3.6],[0.358,3.94],[0.4,3.95],[0.44,3.94],[0.47,3.8],[0.495,3.44],[0.515,2.6],[0.536,1.68],[0.563,0.43],[0.6,0.05],[0.65,0],[0.925,0]];
var nf6_eb=[[-0.24,0],[-0.18,0.05],[-0.107,0.18],[-0.04,0.45],[0.03,0.8],[0.1,1.15],[0.166,1.43],[0.276,1.8],[0.34,2.0],[0.4,2.18],[0.468,1.93],[0.55,1.3],[0.632,0.55],[0.714,0.18],[0.796,0.02],[0.85,0],[0.925,0]];
var nf6_en=[[-0.24,0.22],[-0.17,0.45],[-0.107,0.68],[-0.03,0.95],[0.03,1.18],[0.1,1.32],[0.166,1.38],[0.276,1.38],[0.386,1.3],[0.495,1.05],[0.56,0.8],[0.632,0.55],[0.7,0.33],[0.77,0.18],[0.85,0.1],[0.925,0.05]];
var nf8_bb=[[-0.24,0],[0.06,0],[0.1,0.13],[0.158,0.55],[0.213,1.3],[0.268,2.18],[0.337,2.68],[0.37,2.55],[0.405,2.43],[0.46,2.18],[0.515,2.06],[0.569,1.68],[0.6,1.2],[0.624,0.8],[0.678,0.23],[0.733,0.02],[0.78,0],[0.925,0]];
var nf8_bn=[[-0.24,0],[0.05,0],[0.077,0.05],[0.117,0.43],[0.157,1.43],[0.185,2.43],[0.226,3.06],[0.27,3.1],[0.31,3.14],[0.345,3.5],[0.36,3.4],[0.38,2.6],[0.405,1.68],[0.46,0.55],[0.515,0.05],[0.56,0],[0.925,0]];
var nf8_eb=[[-0.24,0],[0.0,0],[0.05,0.05],[0.1,0.6],[0.15,1.9],[0.18,1.4],[0.22,0.4],[0.25,0.1],[0.29,0.3],[0.31,0.5],[0.335,1.2],[0.35,2.0],[0.364,3.44],[0.39,4.64],[0.432,4.44],[0.473,4.2],[0.493,2.94],[0.515,0.93],[0.54,0.18],[0.58,0],[0.925,0]];
var nf8_en=[[-0.24,0],[0.0,0],[0.02,0.02],[0.063,0.18],[0.104,0.93],[0.142,2.23],[0.17,1.5],[0.2,0.8],[0.235,1.1],[0.268,1.93],[0.31,3.44],[0.342,4.82],[0.36,3.5],[0.377,2.43],[0.41,1.2],[0.432,0.68],[0.46,1.2],[0.493,2.23],[0.515,1.6],[0.542,0.93],[0.597,0.18],[0.65,0],[0.925,0]];
var nf10_bb=[[-0.24,0.02],[-0.176,0.13],[-0.066,0.55],[0.043,1.43],[0.1,1.9],[0.137,2.06],[0.18,1.9],[0.235,1.68],[0.344,1.3],[0.48,1.18],[0.59,1.05],[0.685,0.55],[0.78,0.18],[0.89,0.05],[0.925,0.03]];
var nf10_bn=[[-0.24,0.3],[-0.12,0.8],[-0.014,1.3],[0.096,1.43],[0.235,1.3],[0.4,1.3],[0.563,1.23],[0.673,0.93],[0.783,0.48],[0.893,0.18],[0.925,0.1]];
var nf10_eb=[[-0.24,0],[0.18,0],[0.195,0.1],[0.2,3.0],[0.207,12.1],[0.214,3.0],[0.22,0.1],[0.405,0.1],[0.413,5.0],[0.418,16.0],[0.424,24.9],[0.43,16.0],[0.435,5.0],[0.443,0.1],[0.49,0.1],[0.498,3.5],[0.505,11.72],[0.512,3.5],[0.52,0.1],[0.55,0],[0.925,0]];
var nf10_en=[[-0.24,0],[-0.2,0.01],[-0.12,0.18],[-0.04,0.68],[0.033,1.56],[0.08,1.1],[0.13,0.4],[0.18,0.05],[0.23,0.2],[0.29,0.68],[0.33,1.3],[0.37,2.18],[0.41,3.5],[0.454,4.24],[0.48,3.44],[0.5,2.4],[0.52,1.43],[0.56,0.3],[0.62,0],[0.925,0]];
// tvae
var tv0_bb=[[-0.24,0],[0.3,0],[0.34,0.02],[0.393,0.25],[0.445,0.95],[0.484,1.88],[0.524,2.62],[0.564,2.57],[0.603,2.8],[0.64,3.1],[0.668,3.27],[0.708,2.69],[0.76,2.1],[0.826,1.18],[0.879,0.49],[0.925,0.02]];
var tv0_bn=[[-0.24,0],[0.22,0],[0.275,0.02],[0.34,0.25],[0.393,0.72],[0.445,1.65],[0.497,1.99],[0.577,2.16],[0.668,2.34],[0.735,2.1],[0.787,1.41],[0.84,0.72],[0.893,0.25],[0.925,0.12]];
var tv0_eb=[[-0.24,0],[0.35,0],[0.406,0.02],[0.47,0.14],[0.537,0.72],[0.577,1.65],[0.6,2.3],[0.63,2.57],[0.68,2.46],[0.735,2.6],[0.77,3.4],[0.795,3.9],[0.82,3.7],[0.84,3.27],[0.879,2.1],[0.925,0.8]];
var tv0_en=[[-0.24,0],[0.0,0],[0.104,0.14],[0.21,0.49],[0.314,0.95],[0.42,1.23],[0.524,1.3],[0.603,1.37],[0.68,1.76],[0.773,2.16],[0.84,1.76],[0.893,1.41],[0.925,1.15]];
var tv2_bb=[[-0.24,0],[0.45,0],[0.48,0.1],[0.51,0.49],[0.548,1.18],[0.59,2.1],[0.627,2.8],[0.672,4.24],[0.7,3.6],[0.72,3.04],[0.76,2.57],[0.8,2.34],[0.85,1.53],[0.9,0.49],[0.925,0.1]];
var tv2_bn=[[-0.24,0],[0.43,0],[0.46,0.1],[0.49,0.8],[0.51,1.41],[0.535,2.57],[0.56,2.8],[0.58,2.2],[0.6,1.2],[0.62,0.67],[0.645,0.9],[0.67,1.41],[0.695,4.89],[0.716,7.44],[0.735,4.89],[0.76,1.41],[0.787,0.25],[0.85,0],[0.925,0]];
var tv2_eb=[[-0.24,0],[0.42,0],[0.45,0.05],[0.484,0.25],[0.524,1.18],[0.564,3.04],[0.603,4.43],[0.64,3.5],[0.695,2.57],[0.745,1.65],[0.784,1.18],[0.823,1.65],[0.85,1.3],[0.875,0.72],[0.925,0.2]];
var tv2_en=[[-0.24,0],[0.4,0],[0.43,0.07],[0.47,0.49],[0.51,1.41],[0.535,2.57],[0.56,3.8],[0.584,4.31],[0.605,3.9],[0.626,3.27],[0.666,2.8],[0.706,3.04],[0.725,2.7],[0.745,2.1],[0.784,0.95],[0.824,0.25],[0.875,0],[0.925,0]];
var tv4_bb=[[-0.24,0],[0.396,0],[0.448,0.14],[0.487,0.72],[0.514,1.88],[0.54,3.04],[0.58,4.82],[0.6,4.3],[0.62,3.73],[0.658,3.15],[0.71,2.92],[0.75,2.1],[0.79,0.83],[0.84,0.14],[0.895,0],[0.925,0]];
var tv4_bn=[[-0.24,0],[0.0,0],[0.05,0.03],[0.1,0.1],[0.16,0.25],[0.22,0.55],[0.29,0.95],[0.396,1.65],[0.5,1.88],[0.605,2.1],[0.697,2.29],[0.763,1.76],[0.815,0.95],[0.868,0.37],[0.925,0.12]];
var tv4_eb=[[-0.24,0],[-0.16,0.02],[-0.103,0.07],[0.027,0.37],[0.16,0.72],[0.29,1.18],[0.42,1.37],[0.553,1.41],[0.658,1.53],[0.737,1.41],[0.815,1.07],[0.894,0.83],[0.925,0.72]];
var tv4_en=[[-0.24,0],[-0.15,0.05],[-0.103,0.14],[0.027,0.49],[0.16,0.95],[0.29,1.23],[0.42,1.3],[0.553,1.37],[0.684,1.58],[0.79,1.3],[0.868,1.0],[0.925,0.7]];
var tv6_bb=[[-0.24,0],[0.44,0],[0.452,2.0],[0.46,11.03],[0.468,2.0],[0.476,0.05],[0.635,0.05],[0.645,6.0],[0.654,23.4],[0.662,6.0],[0.672,0.05],[0.68,2.0],[0.69,11.03],[0.698,2.0],[0.708,0],[0.925,0]];
var tv6_bn=[[-0.24,0],[0.38,0],[0.427,0.07],[0.468,0.49],[0.51,1.41],[0.55,2.34],[0.59,3.15],[0.632,3.68],[0.66,3.6],[0.7,3.5],[0.74,3.15],[0.78,2.1],[0.823,0.95],[0.865,0.25],[0.906,0.02],[0.925,0]];
var tv6_eb=[[-0.24,0],[0.36,0],[0.4,0.14],[0.44,0.72],[0.482,1.88],[0.523,3.04],[0.564,3.78],[0.605,3.04],[0.66,2.57],[0.714,2.1],[0.77,1.65],[0.85,0.72],[0.905,0.25],[0.925,0.15]];
var tv6_en=[[-0.24,0],[0.36,0],[0.4,0.07],[0.44,0.49],[0.482,1.65],[0.523,2.57],[0.564,3.5],[0.61,4.31],[0.635,3.9],[0.66,3.62],[0.7,3.27],[0.74,2.57],[0.796,1.41],[0.85,0.49],[0.906,0.07],[0.925,0.03]];
var tv8_bb=[[-0.24,0],[0.45,0],[0.487,0.14],[0.528,0.72],[0.564,1.65],[0.597,2.34],[0.624,3.5],[0.645,4.77],[0.665,4.0],[0.678,3.5],[0.706,2.34],[0.745,1.88],[0.787,1.92],[0.828,2.0],[0.87,1.41],[0.925,0.45]];
var tv8_bn=[[-0.24,0],[0.52,0],[0.545,0.1],[0.555,2.0],[0.564,4.08],[0.573,2.0],[0.585,0.2],[0.66,0.2],[0.68,2.0],[0.695,8.0],[0.71,12.07],[0.722,8.0],[0.735,3.0],[0.75,0.6],[0.77,0.1],[0.82,0],[0.925,0]];
var tv8_eb=[[-0.24,0],[0.18,0],[0.213,0.02],[0.267,0.25],[0.32,0.72],[0.377,1.65],[0.432,2.57],[0.487,3.38],[0.528,2.57],[0.57,1.18],[0.625,0.25],[0.68,0.2],[0.73,0.4],[0.76,1.0],[0.79,1.53],[0.83,0.72],[0.87,0.25],[0.925,0.05]];
var tv8_en=[[-0.24,0],[-0.15,0.05],[-0.06,0.25],[0.077,0.72],[0.21,1.18],[0.32,1.3],[0.43,1.3],[0.54,1.37],[0.665,1.48],[0.76,1.18],[0.843,0.83],[0.925,0.45]];
var tv10_bb=[[-0.24,0],[0.33,0],[0.37,0.02],[0.413,0.25],[0.454,0.95],[0.495,1.88],[0.53,2.57],[0.564,3.55],[0.6,3.55],[0.632,3.45],[0.66,3.2],[0.687,2.8],[0.728,1.88],[0.77,1.18],[0.81,0.6],[0.85,0.25],[0.89,0.02],[0.925,0]];
var tv10_bn=[[-0.24,0],[0.34,0],[0.4,0.25],[0.454,1.18],[0.495,2.16],[0.53,1.5],[0.565,0.95],[0.59,1.0],[0.605,1.3],[0.624,2.57],[0.646,4.19],[0.687,4.96],[0.71,4.7],[0.728,4.43],[0.755,2.57],[0.783,1.18],[0.825,0.25],[0.865,0],[0.925,0]];
var tv10_eb=[[-0.24,0],[0.1,0],[0.152,0.02],[0.207,0.25],[0.262,0.72],[0.317,1.65],[0.372,2.34],[0.427,2.46],[0.505,2.8],[0.577,3.15],[0.632,2.57],[0.687,1.65],[0.742,0.72],[0.796,0.25],[0.85,0.02],[0.9,0],[0.925,0]];
var tv10_en=[[-0.24,0],[0.343,0],[0.384,0.14],[0.425,0.72],[0.466,2.1],[0.493,3.73],[0.53,5.4],[0.56,3.73],[0.59,1.41],[0.618,0.25],[0.66,0.07],[0.72,0.3],[0.74,0.72],[0.765,2.0],[0.783,2.53],[0.8,2.0],[0.825,0.72],[0.865,0.14],[0.9,0],[0.925,0]];

// ---------- styles / layout ----------
var colors = ["#DB5F57","#91DB57","#57D3DB","#A157DB"];
var FILL_ALPHA = 0.3;
var FONT = '"Liberation Sans", Arial, Helvetica, sans-serif';
var PANEL_W = 574, PANEL_H = 366, LEFT0 = 230, COL_STEP = 616.2, TOP0 = 266.3, ROW_STEP = 404.3;
var AXIS_W = 110, AXIS_H = 80, TOP_PAD = 32;
var GRID_MAJOR = "#EBEBEB", GRID_MINOR = "#F2F2F2";

function rgba(hex, a){var n=parseInt(hex.slice(1),16);return "rgba("+((n>>16)&255)+","+((n>>8)&255)+","+(n&255)+","+a+")";}
function withMinors(majors, lo, hi){
  var step = majors[1]-majors[0], out = majors.slice();
  for (var i=0;i<majors.length-1;i++) out.push((majors[i]+majors[i+1])/2);
  if (majors[0]-step/2 >= lo) out.push(majors[0]-step/2);
  if (majors[majors.length-1]+step/2 <= hi) out.push(majors[majors.length-1]+step/2);
  return out.sort(function(a,b){return a-b;});
}
function idxOf(arr, v){for (var i=0;i<arr.length;i++) if (Math.abs(arr[i]-v)<1e-9) return i; return -1;}

var root = document.getElementById('root');
function addText(txt, css){var d=document.createElement('div');d.className='t';d.textContent=txt;for(var k in css)d.style[k]=css[k];root.appendChild(d);return d;}

var xGrid = withMinors(xTickValues, xLimits[0], xLimits[1]);

function makePanel(r, c){
  var pl = Math.round(LEFT0 + c*COL_STEP), pt = Math.round(TOP0 + r*ROW_STEP);
  var cv = document.createElement('canvas');
  var w = PANEL_W + AXIS_W, h = PANEL_H + AXIS_H + TOP_PAD;
  cv.width = w; cv.height = h;
  cv.style.left = (pl-AXIS_W)+'px'; cv.style.top = (pt-TOP_PAD)+'px';
  cv.style.width = w+'px'; cv.style.height = h+'px';
  root.appendChild(cv);
  var showX = (r === models.length-1), showY = (c === 0);
  var yT = yTickValues[r], yL = yTickLabels[r];
  var yGrid = withMinors(yT, yLimits[r][0], yLimits[r][1]);
  var datasets = seriesKeys.map(function(k,i){
    var arr = window[modelKeys[r]+nFeatures[c]+'_'+k];
    return {
      label: seriesNames[i],
      data: arr.map(function(p){return {x:p[0], y:p[1]};}),
      borderColor: colors[i], backgroundColor: rgba(colors[i], FILL_ALPHA),
      borderWidth: 3, pointRadius: 0, pointHoverRadius: 0, fill: 'origin',
      cubicInterpolationMode: 'monotone', order: seriesKeys.length - i
    };
  });
  function zeroPad(s){s.paddingLeft=0;s.paddingRight=0;s.paddingTop=0;s.paddingBottom=0;}
  new Chart(cv, {
    type: 'line',
    data: {datasets: datasets},
    options: {
      responsive: false, animation: false, devicePixelRatio: 1, events: [],
      layout: {padding: {top: TOP_PAD, left: 0, right: 0, bottom: 0}},
      plugins: {legend: {display:false}, tooltip: {enabled:false}, title: {display:false}},
      scales: {
        x: {
          type: 'linear', min: xLimits[0], max: xLimits[1],
          afterBuildTicks: function(s){ s.ticks = xGrid.map(function(v){return {value:v};}); },
          afterFit: function(s){ s.height = AXIS_H; zeroPad(s); },
          ticks: {display: showX, autoSkip: false, maxRotation: 0, minRotation: 0, padding: 16,
            color: '#4D4D4D', font: {family: FONT, size: 48},
            callback: function(v){ var i = idxOf(xTickValues, v); return i<0 ? '' : xTickLabels[i]; }},
          grid: {drawTicks: false,
            color: function(ctx){ return (ctx.tick && idxOf(xTickValues, ctx.tick.value) >= 0) ? GRID_MAJOR : GRID_MINOR; },
            lineWidth: function(ctx){ return (ctx.tick && idxOf(xTickValues, ctx.tick.value) >= 0) ? 3.5 : 2; }},
          border: {display: false}
        },
        y: {
          type: 'linear', min: yLimits[r][0], max: yLimits[r][1],
          afterBuildTicks: function(s){ s.ticks = yGrid.map(function(v){return {value:v};}); },
          afterFit: function(s){ s.width = AXIS_W; zeroPad(s); },
          ticks: {display: showY, autoSkip: false, padding: 27,
            color: '#4D4D4D', font: {family: FONT, size: 48},
            callback: function(v){ var i = idxOf(yT, v); return i<0 ? '' : yL[i]; }},
          grid: {drawTicks: false,
            color: function(ctx){ return (ctx.tick && idxOf(yT, ctx.tick.value) >= 0) ? GRID_MAJOR : GRID_MINOR; },
            lineWidth: function(ctx){ return (ctx.tick && idxOf(yT, ctx.tick.value) >= 0) ? 3.5 : 2; }},
          border: {display: false}
        }
      }
    }
  });
  if (r === 0) {
    addText(nFeatures[c], {left: pl+'px', top: '199px', width: PANEL_W+'px', textAlign: 'center', fontSize: '48px', color: '#1A1A1A'});
  }
  if (c === nFeatures.length-1) {
    var cy = pt + PANEL_H/2;
    addText(models[r], {left: (3928-PANEL_H/2)+'px', top: (cy-24)+'px', width: PANEL_H+'px', height: '48px', textAlign: 'center', fontSize: '48px', color: '#1A1A1A', transform: 'rotate(90deg)'});
  }
}

for (var r=0; r<models.length; r++) for (var c=0; c<nFeatures.length; c++) makePanel(r, c);

// titles
addText(title, {left: '226px', top: '32px', fontSize: '73px', color: '#000'});
addText(xTitle, {left: '1057px', top: '2352px', width: '2000px', textAlign: 'center', fontSize: '61px', color: '#000'});
addText(yTitle, {left: '-137px', top: '1227px', width: '400px', height: '61px', textAlign: 'center', fontSize: '61px', color: '#000', transform: 'rotate(-90deg)'});
addText(legendTitle, {left: '941px', top: '2541px', fontSize: '61px', color: '#000'});

// legend
var lg = document.createElement('div'); lg.id = 'legend'; root.appendChild(lg);
seriesNames.forEach(function(name, i){
  var k = document.createElement('div'); k.className = 'key';
  k.style.borderColor = colors[i]; k.style.background = rgba(colors[i], FILL_ALPHA);
  lg.appendChild(k);
  var t = document.createElement('div'); t.className = 'ltxt'; t.textContent = name;
  lg.appendChild(t);
});
</script>
</body></html>
